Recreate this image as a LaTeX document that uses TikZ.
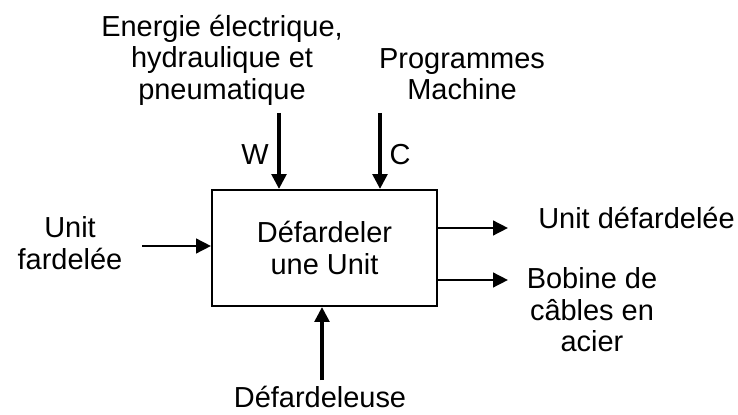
\documentclass[tikz,border=0pt]{standalone}
\usepackage{fontspec}
\setmainfont{Liberation Sans}
\usepackage{tikz}
\usetikzlibrary{arrows.meta, positioning}

\begin{document}
\begin{tikzpicture}[
  every node/.style={font=\fontsize{20.6}{22.5}\selectfont, inner sep=0pt},
  funcbox/.style={
    rectangle, draw=black, line width=1.4pt,
    minimum width=5.625cm, minimum height=2.9cm,
    align=center},
  txt/.style={align=center},
  arr/.style={-{Triangle[length=0.37cm,width=0.36cm]}, line width=#1, color=black},
  arr/.default=1.8pt
]

\useasboundingbox (0,0) rectangle (18.45,-10.375);

%% ── FUNCTION BOX ─────────────────────────────────────────
\node[funcbox] (func) at (8.1125,-6.2) {Défardeler\\une Unit};

%% ── CONTROLS (top) ───────────────────────────────────────
\node[txt] (energy) at (5.55,-1.5)  {Energie électrique,\\hydraulique et\\pneumatique};
\node[txt] (prog)   at (11.55,-1.85) {Programmes\\Machine};

\coordinate (wtop) at (6.975,-2.825);
\coordinate (ctop) at (9.5,-2.825);
\draw[arr=2.6pt] (wtop) -- (wtop |- func.north);
\draw[arr=2.6pt] (ctop) -- (ctop |- func.north);

\node (wlbl) at (6.375,-3.875) {W};
\node (clbl) at (10.0,-3.875)  {C};

%% ── INPUT (left) ─────────────────────────────────────────
\node[txt] (inp) at (1.75,-6.075) {Unit\\fardelée};
\coordinate (instart) at (3.55,-6.15);
\draw[arr] (instart) -- (instart -| func.west);

%% ── OUTPUTS (right) ──────────────────────────────────────
\node[anchor=west] (out1) at (13.45,-5.45) {Unit défardelée};
\node[txt] (out2) at (14.8,-7.75) {Bobine de\\câbles en\\acier};

\coordinate (o1end) at (12.7,-5.7);
\coordinate (o2end) at (12.7,-7.0);
\draw[arr] (o1end -| func.east) -- (o1end);
\draw[arr] (o2end -| func.east) -- (o2end);

%% ── MECHANISM (bottom) ───────────────────────────────────
\node (mech) at (8.0,-9.925) {Défardeleuse};
\coordinate (mstart) at (8.05,-9.5);
\draw[arr=2.6pt] (mstart) -- (mstart |- func.south);

\end{tikzpicture}
\end{document}
